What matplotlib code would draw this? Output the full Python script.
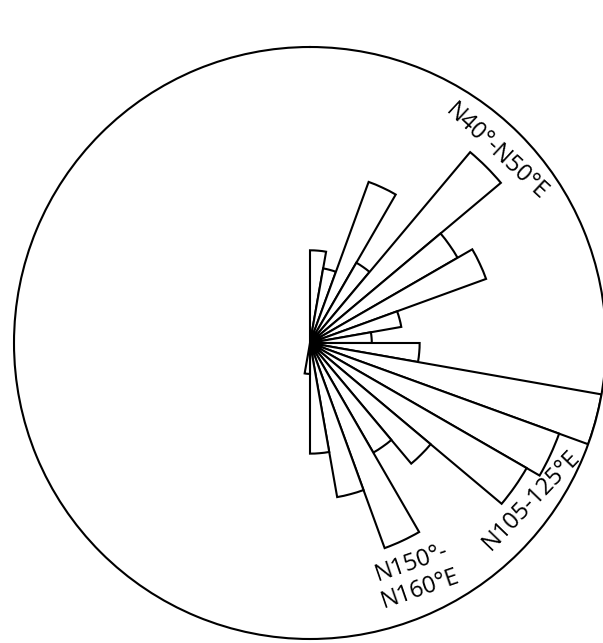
import numpy as np
import matplotlib
matplotlib.use("Agg")
import matplotlib.pyplot as plt

# Strike bins (degrees, clockwise from north) and bar lengths (px-ish units)
bin_starts = [0, 10, 20, 30, 40, 50, 60, 70, 80, 90, 100, 110, 120, 130, 140, 150, 160, 170, 180]
lengths = [93, 76, 172, 93, 250, 171, 188, 93, 62, 110, 297, 266, 251, 158, 127, 219, 157, 111, 31]
bin_width = 10
r_max = 297

labels = ["N40°-N50°E", "N105-125°E", "N150°-\nN160°E"]
label_az = [44.4, 125.4, 155.6]
label_r = [268, 273, 257]
label_rot = [-43, 46, 19]

fig = plt.figure(figsize=(6.03, 6.43), dpi=100)
ax = fig.add_axes([14 / 603, 4 / 643, 592 / 603, 592 / 643], projection="polar")
ax.set_theta_zero_location("N")
ax.set_theta_direction(-1)

theta = np.deg2rad(np.array(bin_starts) + bin_width / 2)
ax.bar(theta, lengths, width=np.deg2rad(bin_width), bottom=0,
       facecolor="white", edgecolor="black", linewidth=1.5, align="center")

ax.set_ylim(0, r_max)
ax.set_yticks([])
ax.set_xticks(np.deg2rad([0, 90, 180, 270]))
ax.set_xticklabels([])
ax.tick_params(axis="x", direction="out", length=7, width=1.2, color="black")
ax.grid(False)
ax.spines["polar"].set_linewidth(1.5)
ax.spines["polar"].set_color("black")

for t, az, r, rot in zip(labels, label_az, label_r, label_rot):
    ax.text(np.deg2rad(az), r, t, rotation=rot, rotation_mode="anchor",
            ha="center", va="center", fontsize=17, family=["Open Sans", "DejaVu Sans"],
            linespacing=1.2)

fig.savefig("out.png", dpi=100)
